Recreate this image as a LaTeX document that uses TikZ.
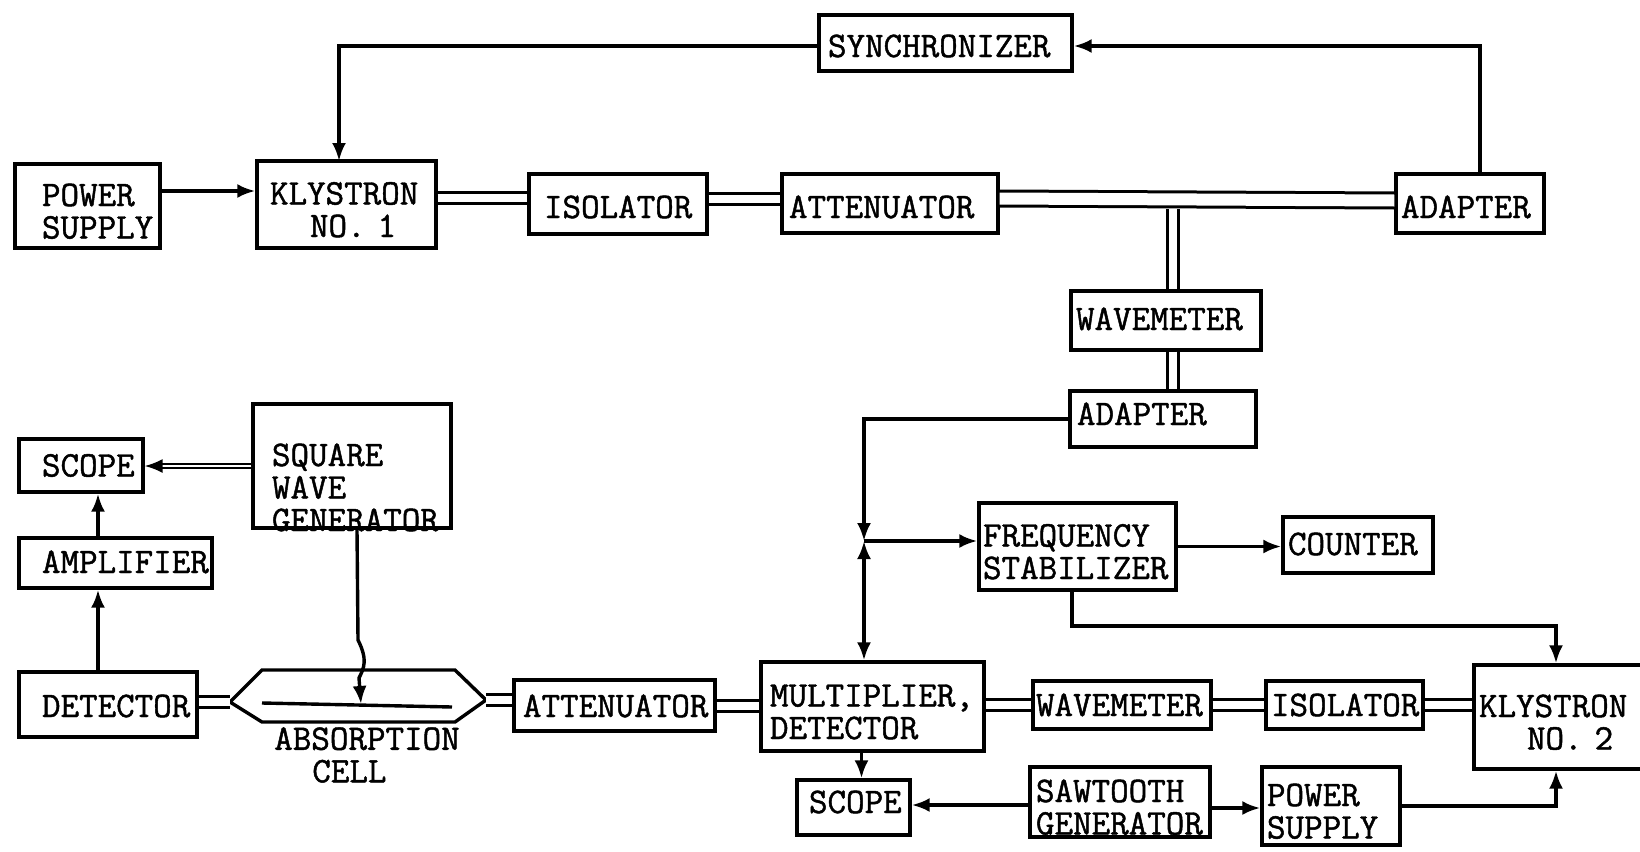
\documentclass[tikz,border=0pt]{standalone}
\usepackage{fontspec}
\usetikzlibrary{arrows.meta}
\newfontfamily\typed[FakeBold=1.3]{Latin Modern Mono}

\begin{document}
\begin{tikzpicture}[x=1pt,y=-1pt,
  blk/.style n args={3}{draw,line width=3.4pt,inner ysep=0pt,inner xsep=#3pt,text width=#1pt-2*#3pt,minimum height=#2pt,align=left,
    font=\fontsize{36}{32.5}\selectfont\typed},
  dy/.style={text height=#1pt,text depth=0pt},
  lbl/.style={inner sep=0pt,align=left,font=\fontsize{36}{32.5}\selectfont\typed},
  sig/.style={line width=3.4pt,-{Latex[length=18pt,width=14pt]}},
  sigb/.style={line width=3.4pt,{Latex[length=18pt,width=14pt]}-{Latex[length=18pt,width=14pt]}},
  wire/.style={line width=3.4pt},
  guide/.style={line width=3pt,double,double distance=8pt},
  guidew/.style={line width=3pt,double,double distance=12pt}]
  \useasboundingbox (0,0) rectangle (1640,851);
  % microwave source, top row
  \node[blk={253}{56}{9},dy=28] (sync) at (945.5,43) {SYNCHRONIZER};
  \node[blk={145}{84}{27},dy=-7] (pwa) at (87.5,206) {POWER\\SUPPLY};
  \node[blk={179}{87}{13},dy=-4] (klya) at (346.5,204.5) {KLYSTRON\\\hspace*{40pt}NO. 1};
  \node[blk={178}{60}{15},dy=28] (isoa) at (618,204) {ISOLATOR};
  \node[blk={216}{59}{7},dy=29] (atta) at (890,203.5) {ATTENUATOR};
  \node[blk={148}{59}{5},dy=29] (adpa) at (1470,203.5) {ADAPTER};
  \node[blk={190}{59}{5},dy=19] (wma) at (1166,320.5) {WAVEMETER};
  \node[blk={186}{56}{7},dy=12] (adpb) at (1163,419) {ADAPTER};
  % stabilizer
  \node[blk={197}{87}{4},dy=-15] (stab) at (1077.5,546.5) {FREQUENCY\\STABILIZER};
  \node[blk={150}{56}{5},dy=20] (cnt) at (1358,545) {COUNTER};
  % detection, left side
  \node[blk={198}{124}{19},dy=-46] (sqw) at (352,466) {SQUARE\\WAVE\\GENERATOR};
  \node[blk={124}{53}{23},dy=22] (scpa) at (81,465.5) {SCOPE};
  \node[blk={193}{50}{23},dy=20] (amp) at (115.5,563) {AMPLIFIER};
  \node[blk={178}{65}{23},dy=25] (det) at (108,704.5) {DETECTOR};
  \node[lbl] (celltxt) at (367,755) {ABSORPTION\\\hspace*{38pt}CELL};
  % bottom row
  \node[blk={201}{51}{9},dy=23] (attb) at (614.5,705.5) {ATTENUATOR};
  \node[blk={223}{89}{9},dy=-13] (mult) at (872.5,706.5) {MULTIPLIER,\\DETECTOR};
  \node[blk={178}{48}{3},dy=22] (wmb) at (1122,705) {WAVEMETER};
  \node[blk={157}{48}{5},dy=22] (isob) at (1344.5,705) {ISOLATOR};
  \node[blk={176}{104}{5},dy=0] (klyb) at (1562,717) {KLYSTRON\\\hspace*{48pt}NO. 2};
  \node[blk={113}{55}{12},dy=11] (scpb) at (853.5,807.5) {SCOPE};
  \node[blk={180}{70}{6},dy=-11] (saw) at (1120,802) {SAWTOOTH\\GENERATOR};
  \node[blk={138}{78}{5},dy=-17] (pwb) at (1331,806) {POWER\\SUPPLY};
  % absorption cell
  \coordinate (cellw) at (230,702);
  \coordinate (celle) at (486,700);
  \coordinate (cellin) at (361,704);
  \draw[wire] (cellw) -- (262,670) -- (455,670) -- (celle) -- (455,722) -- (262,722) -- cycle;
  \draw[wire] (262,703) -- (452,707);
  % free ends and bends
  \coordinate (tee) at (1173,209);
  \coordinate (jct) at (864,541);
  \coordinate (rail) at (1300,626);
  \coordinate (bus) at (98,0);
  \coordinate (klytop) at (339,161);
  % waveguide
  \draw[guide] ([yshift=7pt]klya.east) -- ([yshift=6.5pt]isoa.west);
  \draw[guide] ([yshift=5pt]isoa.east) -- ([yshift=4.5pt]atta.west);
  \draw[guidew] ([yshift=5pt]atta.east) -- ([yshift=3pt]adpa.west);
  \draw[guide] (tee) -- (tee |- wma.north);
  \draw[guide] (tee |- wma.south) -- (tee |- adpb.north);
  \draw[guide] (cellw -| det.east) -- (cellw);
  \draw[guide] (celle) -- (celle -| attb.west);
  \draw[guide] (attb.east) -- (attb.east -| mult.west);
  \draw[guide] (wmb.west -| mult.east) -- (wmb.west);
  \draw[guide] (wmb.east) -- (isob.west);
  \draw[guide] (isob.east) -- (isob.east -| klyb.west);
  % signals
  \draw[sig] ([yshift=-3pt]sync.west) -| (klytop);
  \draw[sig] ([xshift=10pt]adpa.north) |- ([yshift=-3pt]sync.east);
  \draw[sig] ([yshift=15pt]pwa.east) -- ([yshift=13.5pt]klya.west);
  \draw[sig] (adpb.west) -| (jct);
  \draw[sig] (jct) -- (jct -| stab.west);
  \draw[sigb] (jct) -- (jct |- mult.north);
  \draw[sig] (stab.east) -- (stab.east -| cnt.west);
  \draw[sig] ([xshift=-5.5pt]stab.south) |- (rail) -| ([xshift=-6pt]klyb.north);
  \draw[sig] ([xshift=8pt]scpb.north |- mult.south) -- ([xshift=8pt]scpb.north);
  \draw[sig] ([yshift=-3pt]saw.west) -- ([yshift=-3pt]saw.west -| scpb.east);
  \draw[sig] ([yshift=-6pt]saw.east) -- ([yshift=-6pt]saw.east -| pwb.west);
  \draw[sig] (pwb.east) -| ([xshift=-6pt]klyb.south);
  \draw[sig,line width=1.8pt,double,double distance=2.5pt] (sqw.west) -- (sqw.west -| scpa.east);
  \draw[sig] (bus |- amp.north) -- (bus |- scpa.south);
  \draw[sig] (bus |- det.north) -- (bus |- amp.south);
  \draw[sig] ([xshift=5pt]sqw.south) -- (358,640) .. controls (368,660) and (364,668) .. (359,678) -- (cellin);
\end{tikzpicture}
\end{document}
